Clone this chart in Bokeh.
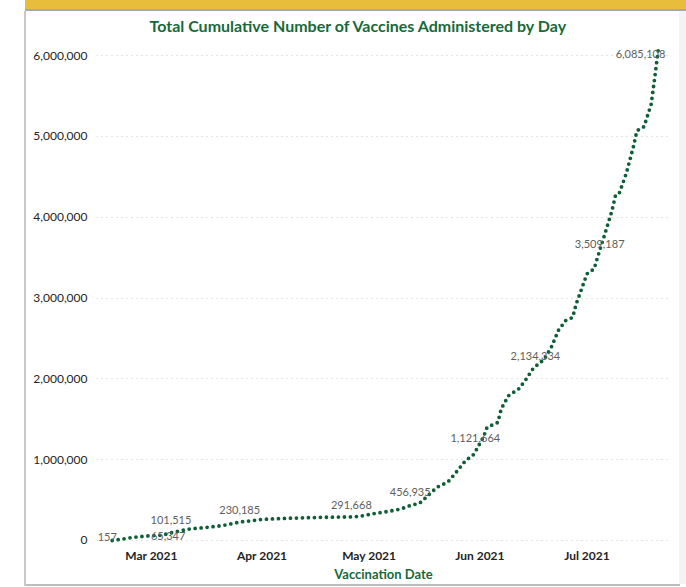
import pandas as pd
from bokeh.plotting import figure
from bokeh.models import (ColumnDataSource, Range1d, DatetimeTickFormatter, MonthsTicker,
                          NumeralTickFormatter, FixedTicker)
from bokeh.embed import file_html
from bokeh.resources import INLINE
from bokeh.core.properties import value

# ---------------- data ----------------
dates = ["2021-02-18", "2021-02-20", "2021-02-24", "2021-03-01", "2021-03-04",
         "2021-03-07", "2021-03-12", "2021-03-16", "2021-03-21", "2021-03-26",
         "2021-03-28", "2021-04-01", "2021-04-09", "2021-04-18", "2021-04-26",
         "2021-04-28", "2021-05-02", "2021-05-07", "2021-05-10", "2021-05-13",
         "2021-05-15", "2021-05-17", "2021-05-18", "2021-05-20", "2021-05-23",
         "2021-05-25", "2021-05-28", "2021-05-30", "2021-05-31", "2021-06-02",
         "2021-06-03", "2021-06-06", "2021-06-07", "2021-06-09", "2021-06-12",
         "2021-06-14", "2021-06-16", "2021-06-19", "2021-06-21", "2021-06-23",
         "2021-06-25", "2021-06-27", "2021-06-28", "2021-06-29", "2021-07-01",
         "2021-07-03", "2021-07-04", "2021-07-06", "2021-07-08", "2021-07-09",
         "2021-07-10", "2021-07-12", "2021-07-14", "2021-07-15", "2021-07-17",
         "2021-07-19", "2021-07-20", "2021-07-21"]
totals = [157, 12000, 40000, 60000, 65347,
          101515, 145000, 160000, 185000, 230185,
          239000, 262000, 276000, 287000, 291668,
          297000, 330000, 365000, 392000, 440000,
          456935, 536000, 578000, 660000, 722000,
          825000, 990000, 1050000, 1121664, 1280000,
          1400000, 1460000, 1630000, 1790000, 1880000,
          2000000, 2134334, 2240000, 2390000, 2600000,
          2720000, 2760000, 2930000, 3050000, 3300000,
          3360000, 3509187, 3790000, 4080000, 4270000,
          4290000, 4540000, 4870000, 5070000, 5120000,
          5400000, 5730000, 6085108]

label_dates = ["2021-02-18", "2021-03-04", "2021-03-07", "2021-03-26", "2021-04-26",
               "2021-05-15", "2021-05-31", "2021-06-16", "2021-07-04", "2021-07-21"]
label_totals = [157, 65347, 101515, 230185, 291668,
                456935, 1121664, 2134334, 3509187, 6085108]

y_ticks = [0, 1000000, 2000000, 3000000, 4000000, 5000000, 6000000]

# label placement (style, not data)
label_dx = [-5, 6, -2, -1, 0, -9, -1, 2, 2, 7]
label_dy = [-3, 1, -12, -12, -12, -12, -12, -12, -13, 5]
label_align = ["center"] * 9 + ["right"]

# ---------------- styling ----------------
GREEN = "#17693A"
LINE = "#0E5E36"
TICK = "#252423"
LABEL = "#605E5C"
FONT = "Lato"

# report-page chrome drawn as CSS background layers behind a transparent border area
page_bg = ", ".join([
    "linear-gradient(#E8BD3B,#E8BD3B) 25px 0px / 661px 9px no-repeat",
    "linear-gradient(#A8A8A8,#A8A8A8) 25px 9px / 661px 2px no-repeat",
    "linear-gradient(#C8C8C8,#C8C8C8) 24px 11px / 2px 575px no-repeat",
    "linear-gradient(#BDBDBD,#BDBDBD) 25px 584px / 655px 2px no-repeat",
    "linear-gradient(#F3F3F3,#F3F3F3) 679px 11px / 7px 573px no-repeat",
    "#FFFFFF",
])

df = pd.DataFrame({"date": pd.to_datetime(dates), "total": totals})
src = ColumnDataSource(df)
lab = ColumnDataSource(dict(date=pd.to_datetime(label_dates), total=label_totals,
                            text=[f"{v:,}" for v in label_totals],
                            dx=label_dx, dy=label_dy, align=label_align))

mar1 = pd.Timestamp("2021-03-01")
x0 = mar1 - pd.Timedelta(days=15.4)
x1 = mar1 + pd.Timedelta(days=145.4)

p = figure(width=686, height=587, x_axis_type="datetime",
           output_backend="svg", toolbar_location=None,
           x_range=Range1d(x0, x1), y_range=Range1d(-61858, 6185574),
           min_border_left=96, min_border_right=16,
           min_border_top=40, min_border_bottom=42,
           styles={"position": "absolute", "left": "0px", "top": "0px",
                   "background": page_bg})

p.outline_line_color = None
p.background_fill_color = "white"
p.border_fill_color = "white"
p.border_fill_alpha = 0

# title
p.title.text = "Total Cumulative Number of Vaccines Administered by Day"
p.title.text_font = FONT
p.title.text_font_size = "16px"
p.title.text_font_style = "bold"
p.title.text_color = GREEN
p.title.align = "left"
p.title.offset = 53
p.title.standoff = 12

# axes
p.yaxis.ticker = FixedTicker(ticks=y_ticks)
p.yaxis.formatter = NumeralTickFormatter(format="0,0")
p.xaxis.ticker = MonthsTicker(months=list(range(12)))
fmt = "%b %Y"
p.xaxis.formatter = DatetimeTickFormatter(months=fmt, days=fmt, years=fmt)
for ax in (p.xaxis, p.yaxis):
    ax.axis_line_color = None
    ax.major_tick_line_color = None
    ax.minor_tick_line_color = None
    ax.major_tick_in = 0
    ax.major_tick_out = 0
    ax.major_label_text_font = FONT
    ax.major_label_text_font_size = "12px"
    ax.major_label_text_color = TICK
p.yaxis.major_label_standoff = 9
p.xaxis.major_label_standoff = 2
p.xaxis.major_label_text_font_style = "bold"
p.xaxis.axis_label = "Vaccination Date"
p.xaxis.axis_label_text_font = FONT
p.xaxis.axis_label_text_font_size = "13px"
p.xaxis.axis_label_text_font_style = "bold"
p.xaxis.axis_label_text_color = GREEN
p.xaxis.axis_label_standoff = 0

p.xgrid.grid_line_color = None
p.ygrid.grid_line_color = "#C8C8C8"
p.ygrid.grid_line_dash = "1 4"
p.ygrid.grid_line_width = 1

# series
p.line(x="date", y="total", source=src, line_color=LINE, line_width=3.8,
       line_dash="0 6", line_cap="round")
p.text(x="date", y="total", text="text", source=lab, x_offset="dx", y_offset="dy",
       text_align="align", text_baseline="middle", text_font=value(FONT),
       text_font_size="11px", text_color=LABEL)

open("out.html", "w").write(file_html(p, INLINE))
